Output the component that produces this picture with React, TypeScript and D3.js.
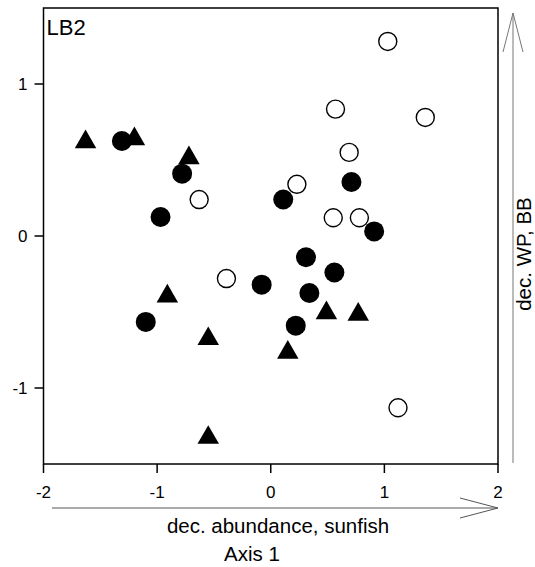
import React from "react";
import * as d3 from "d3";

// ordination scores
const groups = ["filled", "open", "triangle"];

const sites = [
  { x: -1.63, y: 0.625, g: "triangle" },
  { x: -1.2, y: 0.645, g: "triangle" },
  { x: -0.72, y: 0.52, g: "triangle" },
  { x: -0.91, y: -0.39, g: "triangle" },
  { x: -0.55, y: -0.67, g: "triangle" },
  { x: -0.55, y: -1.32, g: "triangle" },
  { x: 0.49, y: -0.5, g: "triangle" },
  { x: 0.77, y: -0.51, g: "triangle" },
  { x: 0.15, y: -0.76, g: "triangle" },
  { x: -1.31, y: 0.625, g: "filled" },
  { x: -0.78, y: 0.41, g: "filled" },
  { x: -0.97, y: 0.125, g: "filled" },
  { x: 0.71, y: 0.355, g: "filled" },
  { x: 0.11, y: 0.24, g: "filled" },
  { x: -0.08, y: -0.32, g: "filled" },
  { x: -1.1, y: -0.565, g: "filled" },
  { x: 0.31, y: -0.14, g: "filled" },
  { x: 0.56, y: -0.24, g: "filled" },
  { x: 0.34, y: -0.375, g: "filled" },
  { x: 0.22, y: -0.59, g: "filled" },
  { x: 1.03, y: 1.28, g: "open" },
  { x: 0.57, y: 0.835, g: "open" },
  { x: 1.36, y: 0.78, g: "open" },
  { x: 0.69, y: 0.55, g: "open" },
  { x: 0.23, y: 0.34, g: "open" },
  { x: 0.55, y: 0.12, g: "open" },
  { x: 0.78, y: 0.12, g: "open" },
  { x: -0.63, y: 0.24, g: "open" },
  { x: -0.39, y: -0.28, g: "open" },
  { x: 1.12, y: -1.13, g: "open" },
  { x: 0.91, y: 0.03, g: "filled" },
];

const xTicks = [-2, -1, 0, 1, 2];
const yTicks = [-1, 0, 1];
const xDomain = [-2, 2];
const yDomain = [-1.5, 1.5];

const panelLabel = "LB2";
const xArrowLabel = "dec. abundance, sunfish";
const xAxisTitle = "Axis 1";
const yArrowLabel = "dec. WP, BB";

const W = 535;
const H = 567;
const FONT = "Arial, 'Liberation Sans', sans-serif";

function Marker({ g, cx, cy }) {
  if (g === "triangle") {
    const sym = d3.symbol().type(d3.symbolTriangle).size(200)();
    return <path d={sym} transform={`translate(${cx},${cy + 1})`} fill="#000" />;
  }
  if (g === "open") {
    return <circle cx={cx} cy={cy} r={9} fill="#fff" stroke="#000" strokeWidth={1.4} />;
  }
  return <circle cx={cx} cy={cy} r={10} fill="#000" />;
}

export default function App() {
  const x = d3.scaleLinear().domain(xDomain).range([43.5, 498]);
  const y = d3.scaleLinear().domain(yDomain).range([464, 8]);

  const [x0, x1] = x.range();
  const [yb, yt] = y.range();

  return (
    <svg
      width={W}
      height={H}
      viewBox={`0 0 ${W} ${H}`}
      style={{ position: "absolute", left: 0, top: 0, background: "#fff" }}
      fontFamily={FONT}
    >
      <rect width={W} height={H} fill="#fff" />

      {/* points */}
      {sites.map((d, i) => (
        <Marker key={i} g={d.g} cx={x(d.x)} cy={y(d.y)} />
      ))}

      {/* frame */}
      <rect x={x0} y={yt} width={x1 - x0} height={yb - yt} fill="none" stroke="#000" strokeWidth={1.5} />

      {/* x axis */}
      {xTicks.map(t => (
        <g key={t} transform={`translate(${x(t)},${yb})`}>
          <line y2={9} stroke="#000" strokeWidth={1.5} />
          <text y={34} textAnchor="middle" fontSize={17} fill="#000">{t}</text>
        </g>
      ))}

      {/* y axis */}
      {yTicks.map(t => (
        <g key={t} transform={`translate(${x0},${y(t)})`}>
          <line x2={-9} stroke="#000" strokeWidth={1.5} />
          <text x={-16} dy="0.36em" textAnchor="end" fontSize={17} fill="#000">{t}</text>
        </g>
      ))}

      <text x={x0 + 3} y={yt + 27} fontSize={22} fill="#000">{panelLabel}</text>

      {/* x arrow */}
      <g stroke="#555" strokeWidth={1} fill="none">
        <line x1={52} y1={508} x2={x1} y2={508} />
        <polyline points={`${x1 - 38},${498} ${x1},${508} ${x1 - 38},${518}`} />
      </g>
      <text x={278} y={533} textAnchor="middle" fontSize={20.5} fill="#000">{xArrowLabel}</text>
      <text x={252} y={561} textAnchor="middle" fontSize={20.5} fill="#000">{xAxisTitle}</text>

      {/* y arrow */}
      <g stroke="#777" strokeWidth={1} fill="none">
        <line x1={513} y1={463} x2={513} y2={13} />
        <polyline points={`503,52 513,13 523,52`} />
      </g>
      <text
        transform={`translate(531,254) rotate(-90)`}
        textAnchor="middle"
        fontSize={20.5}
        fill="#000"
      >
        {yArrowLabel}
      </text>
    </svg>
  );
}
